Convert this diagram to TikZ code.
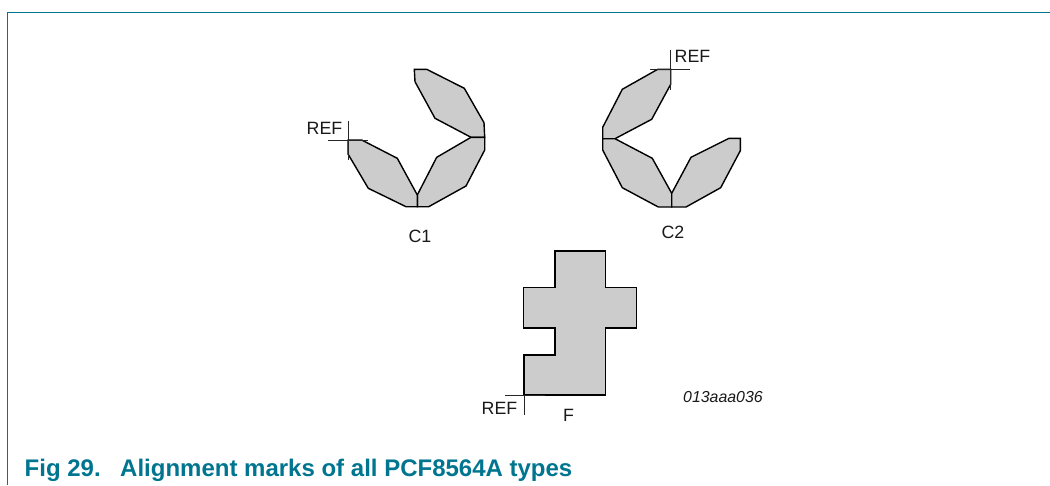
\documentclass[tikz,border=0pt]{standalone}
\usepackage{fontspec}
\setmainfont{Liberation Sans}
\definecolor{nxpteal}{HTML}{00758F}
\definecolor{markgrey}{HTML}{CCCCCC}
\tikzset{
  markshape/.style={draw=black,fill=markgrey,line width=1.4pt,line join=miter},
  refline/.style={draw=black!85,line width=0.8pt},
  frameline/.style={draw=nxpteal,line width=1.3pt},
  lbl/.style={font=\fontsize{17.8}{20}\selectfont,inner sep=0pt,text=black!90},
  tag/.style={font=\fontsize{15.9}{18}\selectfont\itshape,inner sep=0pt,text=black!90},
  captiontext/.style={font=\fontsize{24}{27}\selectfont\bfseries,text=nxpteal,inner sep=0pt,anchor=base west}
}
\begin{document}
\begin{tikzpicture}[x=1pt,y=-1pt]
\useasboundingbox (0,0) rectangle (1050,485);
\draw[frameline] (1050,12.5) -- (7.3,12.5) -- (7.3,485);
% C1
\draw[markshape] (414.3,69.3) -- (426.7,69.3) -- (464.3,88.3) -- (484,122.7) -- (484.7,137.3) -- (471,137.3) -- (435,118.3) -- (415,81.7) -- cycle;
\draw[markshape] (471,137.3) -- (484.7,137.3) -- (484.7,150) -- (466,186) -- (428.7,206.7) -- (417.3,206.7) -- (417.3,195) -- (436.7,157.3) -- cycle;
\draw[markshape] (348,140) -- (361.7,140) -- (397.3,158.3) -- (417.3,195) -- (417.3,206.7) -- (406,206.7) -- (368.3,188.3) -- (348,154) -- cycle;
\draw[refline] (328.3,140) -- (368.3,140);
\draw[refline] (348,120.7) -- (348,160);
\node[lbl,anchor=base west] (refa) at (306.5,134.3) {REF};
\node[lbl,anchor=base] (ca) at (420,242.7) {C1};
% C2
\draw[markshape] (670.7,69.3) -- (657.7,69.3) -- (622.3,89.3) -- (602.7,127.3) -- (602.7,138.7) -- (615,138.7) -- (651.7,119.3) -- (670.7,84.3) -- cycle;
\draw[markshape] (602.7,138.7) -- (615,138.7) -- (652.3,158.3) -- (671.7,193.3) -- (671.7,207) -- (658.3,207) -- (622.3,187.7) -- (602.7,150) -- cycle;
\draw[markshape] (671.7,193.3) -- (691,157.3) -- (729,138.3) -- (740.3,138.3) -- (740.3,150.7) -- (720.7,187.7) -- (686,207) -- (671.7,207) -- cycle;
\draw[refline] (650,69.3) -- (690,69.3);
\draw[refline] (670.7,50) -- (670.7,90);
\node[lbl,anchor=base west] (refb) at (674.5,62.7) {REF};
\node[lbl,anchor=base] (cb) at (673,238.5) {C2};
% F
\draw[markshape] (555,251) -- (605.7,251) -- (605.7,287.7) -- (636.3,287.7) -- (636.3,328) -- (605.7,328) -- (605.7,395) -- (524,395) -- (524,355) -- (555,355) -- (555,328) -- (523.3,328) -- (523.3,287.7) -- (555,287.7) -- cycle;
\draw[refline] (505,395) -- (545,395);
\draw[refline] (524,395) -- (524,415);
\node[lbl,anchor=base west] (refc) at (481.5,414.3) {REF};
\node[lbl,anchor=base] (f) at (568.5,421) {F};
\node[tag,anchor=base west] (code) at (683,402) {013aaa036};
% caption
\node[captiontext] (cap) at (24.5,476) {Fig 29.\hspace{19.5pt}Alignment marks of all PCF8564A types};
\end{tikzpicture}
\end{document}
